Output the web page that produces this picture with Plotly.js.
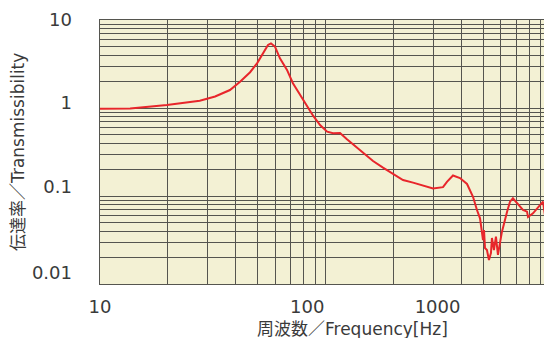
<!DOCTYPE html>
<html>
<head>
<meta charset="utf-8">
<script src="https://cdn.plot.ly/plotly-3.0.1.min.js"></script>
<style>html,body{margin:0;padding:0;background:#fff;}#chart{width:544px;height:338px;}</style>
</head>
<body>
<div id="chart"></div>
<script>
// Frequency [Hz] (in grid units of the chart)
const freq = [10, 13.6, 19.8, 27.7, 32.4, 37.7, 41.8, 46.3, 49.7, 52.8, 55.6, 57.3, 59.7, 62.8, 67.5, 71.7, 77.1, 82.8, 88.1, 94.6, 101.7, 108, 116, 124.5, 132.4, 146.6, 162.5, 179.9, 199.2, 220.7, 244.5, 270.6, 299.8, 332, 345.6, 367.6, 394.8, 424.3, 451, 469.6, 484.5, 499.5, 504.6, 509.7, 520, 530.7, 541.6, 547.2, 558.5, 570, 581.8, 593.8, 606.1, 638.6, 658, 678, 706.4, 751, 782.8, 791, 832, 893.6, 922, 940];
// Transmissibility
const transmissibility = [0.98, 0.99, 1.08, 1.21, 1.35, 1.60, 1.99, 2.55, 3.22, 4.19, 5.20, 5.43, 4.98, 3.67, 2.71, 1.91, 1.41, 1.05, 0.818, 0.641, 0.538, 0.516, 0.520, 0.441, 0.387, 0.319, 0.250, 0.210, 0.178, 0.152, 0.142, 0.133, 0.122, 0.126, 0.145, 0.171, 0.160, 0.137, 0.098, 0.0693, 0.0558, 0.0316, 0.0411, 0.0256, 0.0243, 0.0187, 0.0225, 0.0333, 0.0243, 0.0345, 0.0214, 0.0292, 0.0393, 0.0664, 0.0861, 0.0942, 0.0826, 0.0693, 0.0664, 0.0577, 0.0635, 0.0791, 0.0861, 0.0608];

// Grid lines (log grid 1..9 per decade)
const xGrid = [10,20,30,40,50,60,70,80,90,100,200,300,400,500,600,700,800,900];
const yGrid = [0.01,0.02,0.03,0.04,0.05,0.06,0.07,0.08,0.09,0.1,0.2,0.3,0.4,0.5,0.6,0.7,0.8,0.9,1,2,3,4,5,6,7,8,9,10];

// Tick labels as placed in the reference
const xTickPos = [10, 83, 314];
const xTickText = ["10", "100", "1000"];
const yTickPos = [10, 1.14, 0.1265, 0.0134];
const yTickText = ["10", "1", "0.1", "0.01"];

const xTitle = "周波数／Frequency[Hz]";
const yTitle = "伝達率／Transmissibility";

const xRange = [1, 2.969];
const yRange = [-2, 1];
const gridColor = "#55554f";
const labelFont = {family: "DejaVu Sans, Noto Sans CJK JP", size: 18, color: "#3a3a3a"};
const titleFont = {family: "DejaVu Sans, Noto Sans CJK JP", size: 17, color: "#3a3a3a"};

const traces = [
  {
    x: freq, y: transmissibility, type: "scatter", mode: "lines",
    line: {color: "#e8262b", width: 2},
    xaxis: "x", yaxis: "y", hoverinfo: "skip"
  },
  {
    x: [], y: [], type: "scatter", mode: "lines",
    xaxis: "x2", yaxis: "y2", hoverinfo: "skip", showlegend: false
  }
];

const layout = {
  width: 544, height: 338,
  margin: {l: 100, r: 0, t: 20, b: 54, pad: 0},
  paper_bgcolor: "#ffffff",
  plot_bgcolor: "#f3f1d4",
  showlegend: false,
  xaxis: {
    type: "log", range: xRange, tickmode: "array", tickvals: xGrid,
    showticklabels: false, ticks: "", showgrid: true, gridcolor: gridColor, gridwidth: 1,
    zeroline: false, showline: true, linecolor: gridColor, linewidth: 1, mirror: true
  },
  xaxis2: {
    type: "log", range: xRange, overlaying: "x", anchor: "y", side: "bottom",
    tickmode: "array", tickvals: xTickPos, ticktext: xTickText,
    showgrid: false, ticks: "", zeroline: false, showline: false,
    tickfont: labelFont, ticklabelstandoff: 10
  },
  yaxis: {
    type: "log", range: yRange, tickmode: "array", tickvals: yGrid,
    showticklabels: false, ticks: "", showgrid: true, gridcolor: gridColor, gridwidth: 1,
    zeroline: false, showline: true, linecolor: gridColor, linewidth: 1, mirror: true
  },
  yaxis2: {
    type: "log", range: yRange, overlaying: "y", anchor: "x", side: "left",
    tickmode: "array", tickvals: yTickPos, ticktext: yTickText,
    showgrid: false, ticks: "", zeroline: false, showline: false,
    tickfont: labelFont, ticklabelstandoff: 27
  },
  annotations: [
    {text: xTitle, xref: "paper", yref: "paper", x: 0.5698, y: -0.1705,
     xanchor: "center", yanchor: "middle", showarrow: false, font: titleFont},
    {text: yTitle, xref: "paper", yref: "paper", x: -0.1847, y: 0.5, textangle: -90,
     xanchor: "center", yanchor: "middle", showarrow: false, font: titleFont}
  ]
};

Plotly.newPlot("chart", traces, layout, {displayModeBar: false, staticPlot: true});
</script>
</body>
</html>
